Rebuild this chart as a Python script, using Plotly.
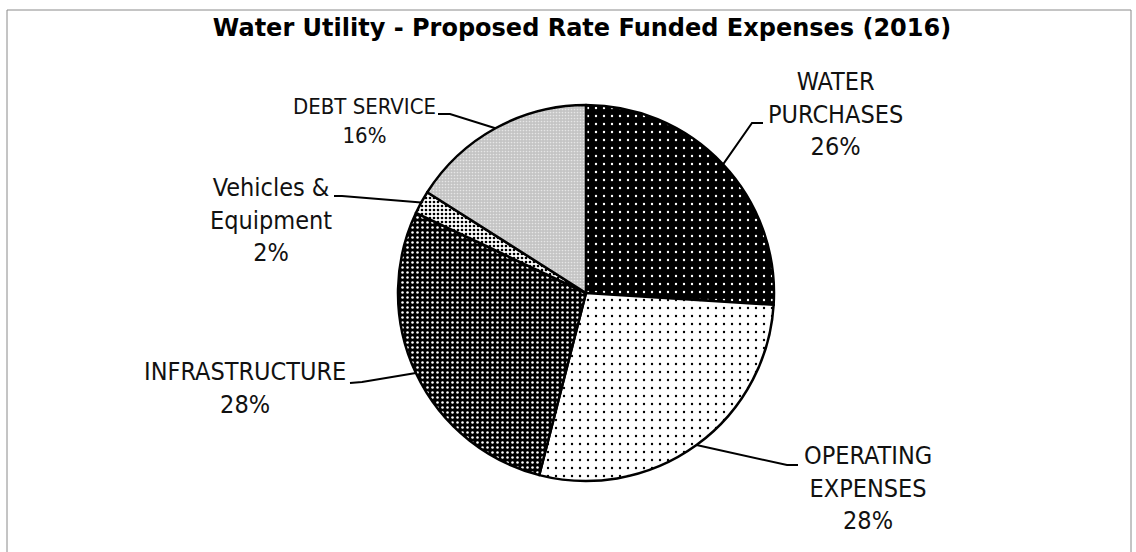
import math
import plotly.graph_objects as go

# Expense categories (clockwise from 12 o'clock) and their shares
categories = ["WATER PURCHASES", "OPERATING EXPENSES", "INFRASTRUCTURE",
              "Vehicles & Equipment", "DEBT SERVICE"]
label_lines = [["WATER", "PURCHASES"], ["OPERATING", "EXPENSES"], ["INFRASTRUCTURE"],
               ["Vehicles &", "Equipment"], ["DEBT SERVICE"]]
shares = [26, 28, 28, 2, 16]

W, H = 1136, 552
CX, CY, R = 586, 293, 188

# Fill patterns per slice
pat_shape = [".", ".", ".", ".", "."]
pat_bg = ["#000000", "#ffffff", "#000000", "#ffffff", "#c4c4c4"]
pat_fg = ["#ffffff", "#000000", "#ffffff", "#000000", "#e6e6e6"]
pat_size = [8, 8, 5, 4, 3]
pat_solid = [0.07, 0.07, 0.2, 0.35, 0.25]

LABEL_FAMILY = "Tahoma, DejaVu Sans Condensed, DejaVu Sans"
label_size = [25, 25, 25, 25, 22]


def px(x, y):
    return x / W, 1 - y / H


fig = go.Figure(go.Pie(
    labels=categories,
    values=shares,
    sort=False,
    direction="clockwise",
    rotation=0,
    textinfo="none",
    hoverinfo="label+percent",
    showlegend=False,
    marker=dict(
        colors=pat_bg,
        line=dict(color="#000000", width=2.5),
        pattern=dict(shape=pat_shape, bgcolor=pat_bg, fgcolor=pat_fg,
                     size=pat_size, solidity=pat_solid, fillmode="replace"),
    ),
    domain=dict(x=[(CX - R) / W, (CX + R) / W], y=[1 - (CY + R) / H, 1 - (CY - R) / H]),
))

# Label block centres and leader elbows (pixel space)
label_pos = [(835, 114), (868, 488), (245, 388), (271, 220), (364, 121)]
elbows = [[(752, 123), (763, 123)],
          [(787, 465), (798, 465)],
          [(362, 382), (350, 383)],
          [(342, 196), (334, 196)],
          [(450, 114), (438, 114)]]

total = sum(shares)
annotations = []
shapes = []
cum = 0
for i, v in enumerate(shares):
    mid = (cum + v / 2) / total * 2 * math.pi
    cum += v
    ex = CX + R * math.sin(mid)
    ey = CY - R * math.cos(mid)
    pct = round(100 * v / total)
    text = "<br>".join(label_lines[i] + [f"{pct}%"])
    lx, ly = px(*label_pos[i])
    annotations.append(dict(x=lx, y=ly, xref="paper", yref="paper", text=text,
                            showarrow=False, xanchor="center", yanchor="middle",
                            align="center",
                            font=dict(family=LABEL_FAMILY, size=label_size[i], color="#111111")))
    pts = [(ex, ey)] + elbows[i]
    path = "M " + " L ".join(f"{px(a, b)[0]},{px(a, b)[1]}" for a, b in pts)
    shapes.append(dict(type="path", path=path, xref="paper", yref="paper",
                       line=dict(color="#000000", width=2)))

# Chart frame
x0, y1 = px(7, 10)
x1, y0 = px(1131, 560)
shapes.append(dict(type="rect", xref="paper", yref="paper", x0=x0, y0=y0, x1=x1, y1=y1,
                   line=dict(color="#8a8a8a", width=1)))

fig.update_layout(
    width=W, height=H,
    margin=dict(l=0, r=0, t=0, b=0),
    paper_bgcolor="#ffffff",
    plot_bgcolor="#ffffff",
    title=dict(text="<b>Water Utility - Proposed Rate Funded Expenses (2016)</b>",
               x=582 / W, y=1 - 28 / H, xanchor="center", yanchor="middle",
               font=dict(family="Tahoma, DejaVu Sans", size=24, color="#000000")),
    annotations=annotations,
    shapes=shapes,
)

fig.write_html("out.html")
